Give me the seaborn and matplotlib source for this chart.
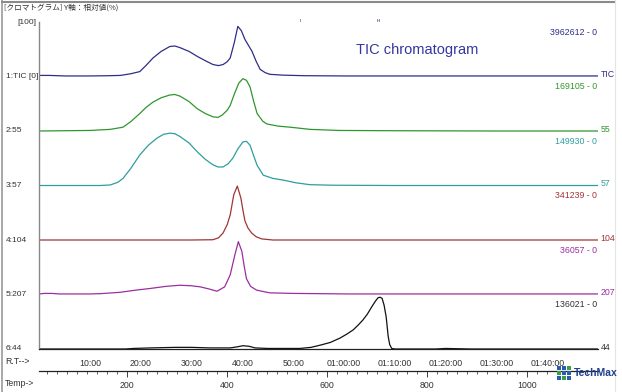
import matplotlib
matplotlib.use("Agg")
import matplotlib.pyplot as plt
import matplotlib.transforms as mtransforms
from matplotlib.lines import Line2D
from matplotlib.patches import Rectangle
import seaborn as sns
import pandas as pd
import numpy as np

# ---------------- data (minutes, relative %) ----------------
tic_t = [0, 2, 5, 10, 14, 16, 18, 19.8, 21, 22.4, 24, 25.7, 26.7, 27.7, 29.5, 31.1, 32.7, 34.2, 35.3, 36.2,
         37, 37.6, 38.4, 39.1, 39.8, 40.5, 41.2, 41.9, 42.7, 43.5, 44.5, 45.4, 48, 52, 60, 80, 100, 110]
tic_v = [2, 2, 1, 1, 1.5, 2, 5, 9, 20, 34, 46, 55, 56, 53, 46, 37, 29, 22, 20, 22,
         27, 34, 62, 92, 84, 68, 57, 46, 28, 13, 7, 4, 2.5, 1.5, 1, 1, 1, 1]

m55_t = [0, 10, 14, 16.5, 18, 19.8, 21, 22.4, 24, 25.7, 26.7, 27.7, 29.5, 31.1, 32.7, 34.2, 35.2, 36, 37,
         37.6, 38.5, 39.3, 40.1, 40.8, 41.5, 42.2, 42.9, 44, 44.8, 47, 49.4, 53.3, 59, 70, 90, 110]
m55_v = [0, 1, 3, 7, 17, 32, 43, 53, 61, 66, 67, 64, 54, 41, 32, 26, 25, 29, 38,
         47, 70, 88, 96, 93, 81, 55, 32, 18, 13, 9, 7, 3, 1, 0.5, 0, 0]

m57_t = [0, 12, 14, 15.5, 16.5, 18, 19.8, 21.5, 23.2, 24.5, 25.7, 26.7, 27.7, 29.5, 31.1, 32.7, 34.2, 35.2,
         36.2, 37.2, 38.1, 39.1, 40.1, 40.8, 41.5, 42.2, 42.9, 44.1, 46, 48, 50.5, 53.3, 58, 70, 90, 110]
m57_v = [0, 0, 1, 6, 13, 31, 56, 74, 87, 94, 96, 95, 90, 78, 62, 48, 38, 34,
         34, 40, 50, 67, 80, 81, 74, 55, 37, 19, 13, 10, 5, 1.5, 0.5, 0, 0, 0]

m104_t = [0, 30, 34.2, 35.3, 36.2, 37, 37.6, 38.3, 39.0, 39.7, 40.1, 40.5, 41.1, 41.8, 42.7, 43.8, 46, 110]
m104_v = [0, 0, 0.5, 4, 13, 28, 46, 83, 99, 77, 55, 35, 22, 13, 6, 2, 0, 0]

m207_t = [0, 1, 2.5, 4, 10, 12, 15.9, 19, 21.8, 25, 27.7, 30, 31.7, 33.5, 35, 36.5, 37.6, 38.5, 39.2,
          39.9, 40.3, 40.8, 41.6, 42.8, 45.4, 50, 61, 80, 110]
m207_v = [1, 2, 2, 1, 1, 1.5, 4, 8, 11, 15, 17, 16, 14, 10, 6, 14, 36, 72, 97,
          79, 55, 29, 15, 8, 3, 2, 1, 1, 1]

m44_t = [0, 17, 18.5, 22, 26.7, 30, 33.6, 37.6, 39, 40.1, 41.3, 42.5, 45, 47.4, 51.3, 53.5, 55.3, 57.3,
         59.2, 60.5, 61.8, 62.8, 63.7, 64.6, 65.5, 66.2, 66.7, 67.1, 67.5, 67.9, 68.3, 68.7, 69.0, 69.4,
         70, 78, 80, 85, 110]
m44_v = [0, 0, 1, 2, 3, 3, 2, 2, 4, 6, 5, 2, 1, 1, 1, 3, 7, 12,
         20, 27, 35, 44, 53, 64, 78, 88, 94, 95, 93, 80, 59, 23, 8, 1,
         0, 0, 1, 0, 0]

series_names = ["TIC", "55", "57", "104", "207", "44"]
left_labels = ["1:TIC [0]", "2:55", "3:57", "4:104", "5:207", "6:44"]
range_labels = ["3962612 - 0", "169105 - 0", "149930 - 0", "341239 - 0", "36057 - 0", "136021 - 0"]
offsets = [500, 400, 300, 200, 100, 0]
colors = ["#2e2e88", "#2f962f", "#2e9e9e", "#a03535", "#9a2fa0", "#111111"]
label_colors = ["#2e2e88", "#2f962f", "#2e9e9e", "#a03535", "#9a2fa0", "#333333"]

rt_ticks = [10, 20, 30, 40, 50, 60, 70, 80, 90, 100]
rt_labels = ["10:00", "20:00", "30:00", "40:00", "50:00", "01:00:00", "01:10:00",
             "01:20:00", "01:30:00", "01:40:00"]
temp_ticks = [200, 400, 600, 800, 1000]

# ---------------- build long table ----------------
frames = []
for name, off, t, v in zip(series_names, offsets,
                           [tic_t, m55_t, m57_t, m104_t, m207_t, m44_t],
                           [tic_v, m55_v, m57_v, m104_v, m207_v, m44_v]):
    frames.append(pd.DataFrame({"time": t, "y": np.array(v) + off, "series": name}))
df = pd.concat(frames, ignore_index=True)

sns.set_theme(style="white")
plt.rcParams["font.family"] = ["Liberation Sans Narrow", "Liberation Sans", "Noto Sans CJK JP", "DejaVu Sans"]

W, H = 622, 392
fig = plt.figure(figsize=(W / 100, H / 100), dpi=100)
ax = fig.add_axes([39.2 / W, 43 / H, 558.8 / W, 327 / H])
ax.set_facecolor("white")

sns.lineplot(data=df, x="time", y="y", hue="series", palette=dict(zip(series_names, colors)),
             estimator=None, sort=False, legend=False, linewidth=0.9, ax=ax)

ax.set_xlim(0, 110)
ax.set_ylim(0, 600)
ax.set_xlabel("")
ax.set_ylabel("")
for s in ["top", "right"]:
    ax.spines[s].set_visible(False)
ax.spines["left"].set_color("#888888")
ax.spines["left"].set_linewidth(1.0)
ax.spines["bottom"].set_color("#222222")
ax.spines["bottom"].set_linewidth(0.9)

ax.set_xticks(rt_ticks)
ax.set_xticklabels(rt_labels, fontsize=6.3, color="#333333")
ax.set_xticks(np.arange(0, 111, 1), minor=True)
ax.tick_params(axis="x", which="major", direction="out", length=4, width=0.6, color="#222222", pad=3)
ax.tick_params(axis="x", which="minor", direction="out", length=2.5, width=0.5, color="#222222")

ax.set_yticks(offsets + [600])
ax.set_yticklabels([])
ax.set_yticks(list(np.linspace(500, 600, 7)[1:-1]), minor=True)
ax.tick_params(axis="y", which="major", direction="out", length=4, width=0.7, color="#666666")
ax.tick_params(axis="y", which="minor", direction="out", length=2.5, width=0.6, color="#666666")

# secondary temperature axis
secax = ax.secondary_xaxis(-0.0673, functions=(lambda t: 24.4 + 10.16 * t, lambda T: (T - 24.4) / 10.16))
secax.set_xticks(temp_ticks)
secax.set_xticklabels([str(v) for v in temp_ticks], fontsize=6.3, color="#333333")
secax.set_xticks(np.arange(40, 1140, 20), minor=True)
secax.tick_params(axis="x", which="major", direction="out", length=4, width=0.6, color="#222222", pad=3)
secax.tick_params(axis="x", which="minor", direction="out", length=2.5, width=0.5, color="#222222")
secax.spines["bottom"].set_color("#222222")
secax.spines["bottom"].set_linewidth(0.9)

# left labels
tr_left = mtransforms.blended_transform_factory(fig.transFigure, ax.transData)
for lab, off in zip(left_labels, offsets):
    ax.text(6 / W, off, lab, transform=tr_left, ha="left", va="center", fontsize=6.0, color="#333333")
ax.text(36 / W, 600, "[100]", transform=tr_left, ha="right", va="center", fontsize=6.0, color="#333333")

# right labels
for name, off, rl, c in zip(series_names, offsets, range_labels, label_colors):
    ax.text(600.5 / W, off + 3, name, transform=tr_left, ha="left", va="center", fontsize=6.3, color=c)
    ax.text(597 / W, off + 81, rl, transform=tr_left, ha="right", va="center", fontsize=6.3, color=c)

ax.text(74.4, 548, "TIC chromatogram", ha="center", va="center", fontsize=10.5,
        color="#3535a0", family=["Liberation Sans", "DejaVu Sans"])

# tiny markers at the top
ax.text((300 - 39.2) / 5.08, (349 - 20) / 0.545, "ı", ha="center", va="center", fontsize=4, color="#2e2e88")
ax.text((378 - 39.2) / 5.08, (349 - 20) / 0.545, "н", ha="center", va="center", fontsize=4, color="#2e2e88")

# header and axis captions
fig.text(4 / W, 1 - 8 / H, "[クロマトグラム] Y軸：相対値(%)", ha="left", va="center", fontsize=5.5,
         color="#333333", family=["Noto Sans CJK JP", "DejaVu Sans"])
fig.text(5 / W, 1 - 362 / H, "R.T-->", ha="left", va="center", fontsize=6.3, color="#333333")
fig.text(5 / W, 1 - 383 / H, "Temp->", ha="left", va="center", fontsize=6.3, color="#333333")

# window frame
fig.add_artist(Line2D([2 / W, 2 / W], [0, 1], transform=fig.transFigure, color="#9a9a9a", lw=1.2))
fig.add_artist(Line2D([2 / W, 615 / W], [1 - 1.5 / H, 1 - 1.5 / H], transform=fig.transFigure,
                      color="#8a8a8a", lw=1.5))
fig.add_artist(Line2D([615 / W, 615 / W], [0, 1], transform=fig.transFigure, color="#e4e4e4", lw=0.8))

# logo
for (x0, y0, c) in [(557, 366, "#2a5db0"), (562, 366, "#2a5db0"), (567, 366, "#3aa040"),
                    (557, 371, "#3aa040"), (562, 371, "#2a5db0"), (567, 371, "#2a5db0"),
                    (557, 376, "#2a5db0"), (562, 376, "#3aa040"), (567, 376, "#2a5db0")]:
    fig.add_artist(Rectangle((x0 / W, 1 - (y0 + 4) / H), 4 / W, 4 / H, transform=fig.transFigure,
                             color=c, lw=0))
fig.text(574 / W, 1 - 373 / H, "TechMax", ha="left", va="center", fontsize=7.5, weight="bold",
         color="#1f3f8f", family=["Liberation Sans", "DejaVu Sans"])

fig.savefig("out.png", dpi=100, facecolor="white")
